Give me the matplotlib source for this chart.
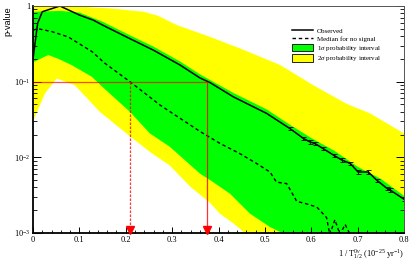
import matplotlib
matplotlib.use("Agg")
import matplotlib.pyplot as plt
from matplotlib.lines import Line2D
from matplotlib.patches import Patch
from matplotlib.ticker import FixedLocator, NullFormatter

plt.rcParams['font.family'] = ['Liberation Serif', 'DejaVu Serif']
plt.rcParams['mathtext.fontset'] = 'custom'
plt.rcParams['mathtext.rm'] = 'Liberation Serif'
plt.rcParams['mathtext.it'] = 'Liberation Serif:italic'

# observed p-value curve
obs_x = [0, 0.01, 0.02, 0.058, 0.1, 0.13, 0.15, 0.209, 0.26, 0.317, 0.36, 0.382, 0.432,
         0.504, 0.554, 0.583, 0.597, 0.608, 0.626, 0.648, 0.666, 0.684, 0.701,
         0.723, 0.741, 0.763, 0.77, 0.8]
obs_p = [0.2, 0.59, 0.84, 1.0, 0.76, 0.65, 0.56, 0.37, 0.26, 0.166, 0.112, 0.097, 0.063,
         0.038, 0.024, 0.0178, 0.016, 0.0152, 0.013, 0.0107, 0.0092, 0.0083, 0.0064,
         0.0064, 0.005, 0.0039, 0.0037, 0.0028]

# median for no signal
med_x = [0, 0.011, 0.04, 0.076, 0.127, 0.155, 0.209, 0.274, 0.36, 0.403, 0.446,
         0.482, 0.511, 0.525, 0.547, 0.569, 0.583, 0.612, 0.633, 0.64, 0.651, 0.662,
         0.673, 0.684, 0.694]
med_p = [0.48, 0.5, 0.46, 0.39, 0.25, 0.175, 0.1, 0.049, 0.022, 0.0153, 0.0112,
         0.0083, 0.0064, 0.0047, 0.0045, 0.0026, 0.0025, 0.0022, 0.0016, 0.00095,
         0.0015, 0.00095, 0.0013, 0.00095, 0.0009]

# 1 sigma band
g_up_x = [0, 0.03, 0.06, 0.1, 0.15, 0.209, 0.26, 0.317, 0.36, 0.432, 0.504, 0.554,
          0.6, 0.65, 0.7, 0.75, 0.8]
g_up_p = [0.84, 0.85, 0.86, 0.82, 0.62, 0.41, 0.29, 0.185, 0.125, 0.071, 0.043, 0.027,
          0.018, 0.0122, 0.0075, 0.0052, 0.0031]
g_lo_x = [0, 0.033, 0.055, 0.083, 0.127, 0.15, 0.209, 0.252, 0.295, 0.36, 0.382,
          0.425, 0.468, 0.511, 0.533, 0.56, 0.8]
g_lo_p = [0.18, 0.225, 0.2, 0.166, 0.116, 0.085, 0.040, 0.0207, 0.0138, 0.0061,
          0.005, 0.0033, 0.0018, 0.0012, 0.00103, 0.0005, 0.0005]

# 2 sigma band
y_up_x = [0, 0.05, 0.1, 0.166, 0.238, 0.27, 0.31, 0.382, 0.453, 0.533, 0.604, 0.676,
          0.727, 0.8]
y_up_p = [1.0, 1.0, 0.98, 0.93, 0.84, 0.74, 0.56, 0.39, 0.265, 0.166, 0.09, 0.051,
          0.038, 0.0207]
y_lo_x = [0, 0.026, 0.051, 0.09, 0.144, 0.209, 0.252, 0.295, 0.339, 0.382, 0.403,
          0.432, 0.457, 0.48, 0.8]
y_lo_p = [0.03, 0.07, 0.11, 0.09, 0.040, 0.019, 0.0118, 0.0078, 0.0041, 0.0025,
          0.0018, 0.00134, 0.001, 0.0005, 0.0005]

p_limit = 0.1
lim_expected = 0.209
lim_observed = 0.376

fig = plt.figure(figsize=(4.15, 2.67), dpi=100)
ax = fig.add_axes([33/415, 1-233/267, 371/415, 227/267])

ax.fill(y_up_x + y_lo_x[::-1], y_up_p + y_lo_p[::-1], color='#ffff00', lw=0)
ax.fill(g_up_x + g_lo_x[::-1], g_up_p + g_lo_p[::-1], color='#00ff00', lw=0)

ax.plot(med_x, med_p, color='black', ls=(0, (2.5, 2)), lw=1.0)
ax.plot(obs_x, obs_p, color='black', lw=1.1)
err_x = obs_x[14:]
err_p = obs_p[14:]
ax.errorbar(err_x, err_p, yerr=[[v*0.05 for v in err_p], [v*0.05 for v in err_p]],
            fmt='none', ecolor='black', elinewidth=0.6, capsize=1.8, capthick=0.6)

# limit lines
ax.plot([0, lim_observed], [p_limit, p_limit], color='red', lw=0.9, alpha=0.7)
ax.plot([lim_observed, lim_observed], [p_limit, 1e-3], color='red', lw=0.9, alpha=0.8)
ax.plot([lim_expected, lim_expected], [p_limit, 1e-3], color='red', lw=0.9,
        ls=(0, (2, 1.2)), alpha=0.8)
ax.plot([lim_expected, lim_observed], [1.1e-3, 1.1e-3], ls='none', marker='v',
        color='red', ms=5.5, clip_on=False, zorder=5)

ax.set_yscale('log')
ax.set_xlim(0, 0.8)
ax.set_ylim(1e-3, 1)

ax.set_yticks([1e-3, 1e-2, 1e-1, 1])
ax.set_yticklabels(['$10^{-3}$', '$10^{-2}$', '$10^{-1}$', '1'])
ax.set_xticks([0, 0.1, 0.2, 0.3, 0.4, 0.5, 0.6, 0.7, 0.8])
ax.set_xticklabels(['0', '0.1', '0.2', '0.3', '0.4', '0.5', '0.6', '0.7', '0.8'])
ax.xaxis.set_minor_locator(FixedLocator([i*0.02 for i in range(41)]))
ax.yaxis.set_minor_formatter(NullFormatter())
ax.tick_params(which='major', direction='in', length=6, width=0.7, labelsize=6,
               right=True, top=False, pad=2)
ax.tick_params(which='minor', direction='in', length=3, width=0.6, right=True, top=False)
ax.tick_params(axis='x', which='major', length=4)
ax.tick_params(axis='x', which='minor', length=2)

for side in ['left', 'bottom']:
    ax.spines[side].set_linewidth(1.3)
for side in ['top', 'right']:
    ax.spines[side].set_linewidth(0.7)
    ax.spines[side].set_color('#555555')

ax.set_ylabel('p-value', loc='top', fontsize=6.5, family=['Liberation Sans'])
ax.yaxis.set_label_coords(-0.055, 1.0)
ax.set_xlabel(r'1 / T$^{0\nu}_{1/2}$ (10$^{-25}$ yr$^{-1}$)', loc='right', fontsize=6,
              labelpad=3)

handles = [Line2D([], [], color='black', lw=1.1),
           Line2D([], [], color='black', lw=1.0, ls=(0, (2.5, 2))),
           Patch(facecolor='#00ff00', edgecolor='black', lw=0.6),
           Patch(facecolor='#ffff00', edgecolor='black', lw=0.6)]
labels = ['Observed', 'Median for no signal', r'1$\sigma$ probability interval',
          r'2$\sigma$ probability interval']
ax.legend(handles, labels, loc='upper left', bbox_to_anchor=(0.69, 0.92), frameon=False,
          fontsize=5, handlelength=3, handleheight=1.2, labelspacing=0.2,
          borderaxespad=0, handletextpad=0.6)

fig.savefig('out.png', dpi=100)
